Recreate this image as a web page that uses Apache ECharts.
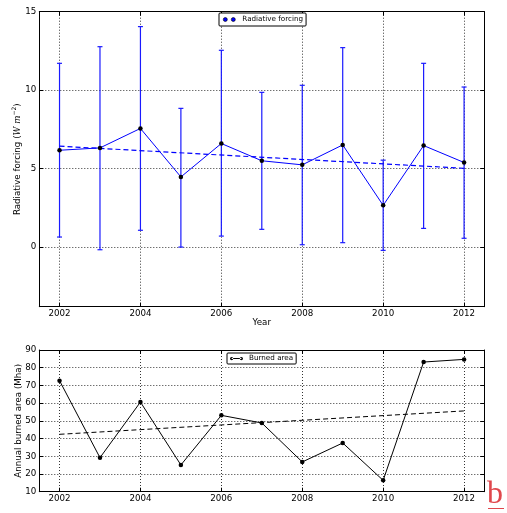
<!DOCTYPE html>
<html>
<head>
<meta charset="utf-8">
<script src="https://cdn.jsdelivr.net/npm/echarts@6/dist/echarts.min.js"></script>
<style>html,body{margin:0;padding:0;background:#fff;}#c{width:507px;height:513px;}</style>
</head>
<body>
<div id="c"></div>
<script>
// ---- data ----
const years = [2002, 2003, 2004, 2005, 2006, 2007, 2008, 2009, 2010, 2011, 2012];
const rfValues = [6.17, 6.32, 7.56, 4.47, 6.60, 5.50, 5.24, 6.51, 2.66, 6.47, 5.39];
const rfUpper = [11.71, 12.77, 14.05, 8.84, 12.54, 9.86, 10.31, 12.71, 5.54, 11.71, 10.20];
const rfLower = [0.64, -0.17, 1.07, 0.00, 0.70, 1.13, 0.15, 0.28, -0.21, 1.19, 0.56];
const rfTrendYears = [2002, 2012];
const rfTrendValues = [6.43, 5.02];
const burned = [72.7, 29.2, 60.6, 25.1, 53.1, 48.8, 26.8, 37.5, 16.4, 83.2, 84.7];
const burnedTrendYears = [2002, 2012];
const burnedTrendValues = [42.4, 55.6];
const yearTicks = [2002, 2004, 2006, 2008, 2010, 2012];
const rfTicks = [0, 5, 10, 15];

const FONT = 'DejaVu Sans';
const dotted = {type: [1, 2], color: '#000', width: 1, opacity: 0.8};

function xAx(grid, opts) {
  return Object.assign({
    type: 'value', gridIndex: grid, min: 2001.5, max: 2012.5,
    axisLine: {show: true, onZero: false, lineStyle: {color: '#000', width: 1}},
    axisTick: {show: true, inside: true, length: 4, customValues: yearTicks, lineStyle: {color: '#000'}},
    axisLabel: {show: true, customValues: yearTicks, formatter: v => String(v), color: '#000', fontFamily: FONT, fontSize: 8.7, margin: 3},
    splitLine: {show: true, lineStyle: dotted}
  }, opts);
}

const option = {
  animation: false,
  backgroundColor: '#fff',
  grid: [
    {left: 39.3, right: 22.7, top: 11.7, height: 295, containLabel: false, outerBoundsMode: 'none'},
    {left: 39.3, right: 22.7, top: 350, height: 141.7, containLabel: false, outerBoundsMode: 'none'}
  ],
  xAxis: [
    xAx(0, {name: 'Year', nameLocation: 'middle', nameGap: 12, nameMoveOverlap: false,
      nameTextStyle: {color: '#000', fontFamily: FONT, fontSize: 8.7}}),
    xAx(0, {position: 'top', axisLabel: {show: false}, splitLine: {show: false}}),
    xAx(1, {}),
    xAx(1, {position: 'top', axisLabel: {show: false}, splitLine: {show: false}})
  ],
  yAxis: [
    {type: 'value', gridIndex: 0, min: -3.8, max: 15,
      axisLine: {show: true, onZero: false, lineStyle: {color: '#000'}},
      axisTick: {show: true, inside: true, length: 4, customValues: rfTicks, lineStyle: {color: '#000'}},
      axisLabel: {customValues: rfTicks, color: '#000', fontFamily: FONT, fontSize: 8.7, margin: 3},
      splitLine: {show: true, lineStyle: dotted},
      name: '{n|Radiative forcing (}{i|W m}{s|−2}{n|)}', nameLocation: 'middle', nameGap: 16, nameRotate: 90,
      nameMoveOverlap: false,
      nameTextStyle: {rich: {
        n: {fontFamily: FONT, fontSize: 8.7, color: '#000'},
        i: {fontFamily: 'DejaVu Serif', fontStyle: 'italic', fontSize: 8.7, color: '#000'},
        s: {fontFamily: FONT, fontSize: 6, color: '#000', padding: [0, 0, 6, 0]}
      }}
    },
    {type: 'value', gridIndex: 0, min: -3.8, max: 15, position: 'right',
      axisLine: {show: true, onZero: false, lineStyle: {color: '#000'}},
      axisTick: {show: true, inside: true, length: 4, customValues: rfTicks, lineStyle: {color: '#000'}},
      axisLabel: {show: false}, splitLine: {show: false}},
    {type: 'value', gridIndex: 1, min: 10, max: 90, interval: 10,
      axisLine: {show: true, onZero: false, lineStyle: {color: '#000'}},
      axisTick: {show: true, inside: true, length: 4, lineStyle: {color: '#000'}},
      axisLabel: {color: '#000', fontFamily: FONT, fontSize: 8.7, margin: 3},
      splitLine: {show: true, lineStyle: dotted},
      name: 'Annual burned area (Mha)', nameLocation: 'middle', nameGap: 16, nameRotate: 90,
      nameMoveOverlap: false,
      nameTextStyle: {color: '#000', fontFamily: FONT, fontSize: 8.7}
    },
    {type: 'value', gridIndex: 1, min: 10, max: 90, interval: 10, position: 'right',
      axisLine: {show: true, onZero: false, lineStyle: {color: '#000'}},
      axisTick: {show: true, inside: true, length: 4, lineStyle: {color: '#000'}},
      axisLabel: {show: false}, splitLine: {show: false}}
  ],
  legend: [
    {left: 219, top: 13, padding: [3, 3, 3, 4], borderColor: '#000', borderWidth: 1, borderRadius: 1,
      backgroundColor: '#fff', itemWidth: 12, itemHeight: 4, itemGap: 4,
      textStyle: {fontFamily: FONT, fontSize: 7.2, color: '#000', padding: [0, 0, 0, 2]},
      data: [{name: 'Radiative forcing',
        icon: 'path://M0,5a5,5 0 1,0 10,0a5,5 0 1,0 -10,0 M20,5a5,5 0 1,0 10,0a5,5 0 1,0 -10,0',
        itemStyle: {color: '#0000ff', borderColor: '#000', borderWidth: 0.6}}]},
    {left: 227, top: 353, padding: [2, 3, 2, 3], borderColor: '#000', borderWidth: 1, borderRadius: 1,
      backgroundColor: '#fff', itemWidth: 13, itemHeight: 5, itemGap: 4,
      textStyle: {fontFamily: FONT, fontSize: 7.2, color: '#000', padding: [0, 0, 0, 1]},
      data: [{name: 'Burned area',
        icon: 'path://M0,5a5,5 0 1,0 10,0a5,5 0 1,0 -10,0 M30,5a5,5 0 1,0 10,0a5,5 0 1,0 -10,0 M5,3.8h30v2.4h-30z',
        itemStyle: {color: '#000'}}]}
  ],
  series: [
    {type: 'custom', name: 'rf-err', xAxisIndex: 0, yAxisIndex: 0, z: 3,
      data: years.map((y, i) => [y, rfLower[i], rfUpper[i]]),
      encode: {x: 0, y: [1, 2]},
      renderItem: function (params, api) {
        const x = api.value(0);
        const lo = api.coord([x, api.value(1)]);
        const hi = api.coord([x, api.value(2)]);
        const w = 2.5;
        const st = {stroke: '#1a1aff', lineWidth: 1.2};
        return {type: 'group', children: [
          {type: 'line', shape: {x1: lo[0], y1: lo[1], x2: hi[0], y2: hi[1]}, style: st},
          {type: 'line', shape: {x1: lo[0] - w, y1: lo[1], x2: lo[0] + w, y2: lo[1]}, style: st},
          {type: 'line', shape: {x1: hi[0] - w, y1: hi[1], x2: hi[0] + w, y2: hi[1]}, style: st}
        ]};
      }},
    {type: 'line', name: 'rf-trend', xAxisIndex: 0, yAxisIndex: 0, z: 4,
      data: rfTrendYears.map((y, i) => [y, rfTrendValues[i]]),
      showSymbol: false, lineStyle: {color: '#0000ff', width: 1.2, type: [5, 3]}},
    {type: 'line', name: 'Radiative forcing', xAxisIndex: 0, yAxisIndex: 0, z: 5,
      data: years.map((y, i) => [y, rfValues[i]]),
      symbol: 'circle', symbolSize: 4.5, showAllSymbol: true,
      itemStyle: {color: '#000'}, lineStyle: {color: '#0000ff', width: 1}},
    {type: 'line', name: 'burned-trend', xAxisIndex: 2, yAxisIndex: 2, z: 4,
      data: burnedTrendYears.map((y, i) => [y, burnedTrendValues[i]]),
      showSymbol: false, lineStyle: {color: '#000', width: 1, type: [5, 3]}},
    {type: 'line', name: 'Burned area', xAxisIndex: 2, yAxisIndex: 2, z: 5,
      data: years.map((y, i) => [y, burned[i]]),
      symbol: 'circle', symbolSize: 4.5, showAllSymbol: true,
      itemStyle: {color: '#000'}, lineStyle: {color: '#000', width: 1}}
  ],
  graphic: [
    {type: 'text', left: 487, top: 479, z: 10,
      style: {text: 'b', fontFamily: 'Liberation Serif', fontSize: 32, fill: '#e0474c'}},
    {type: 'rect', left: 488, top: 508, z: 10, shape: {width: 16, height: 1}, style: {fill: '#e0474c'}}
  ]
};

const chart = echarts.init(document.getElementById('c'), null, {renderer: 'canvas'});
chart.setOption(option);
</script>
</body>
</html>
